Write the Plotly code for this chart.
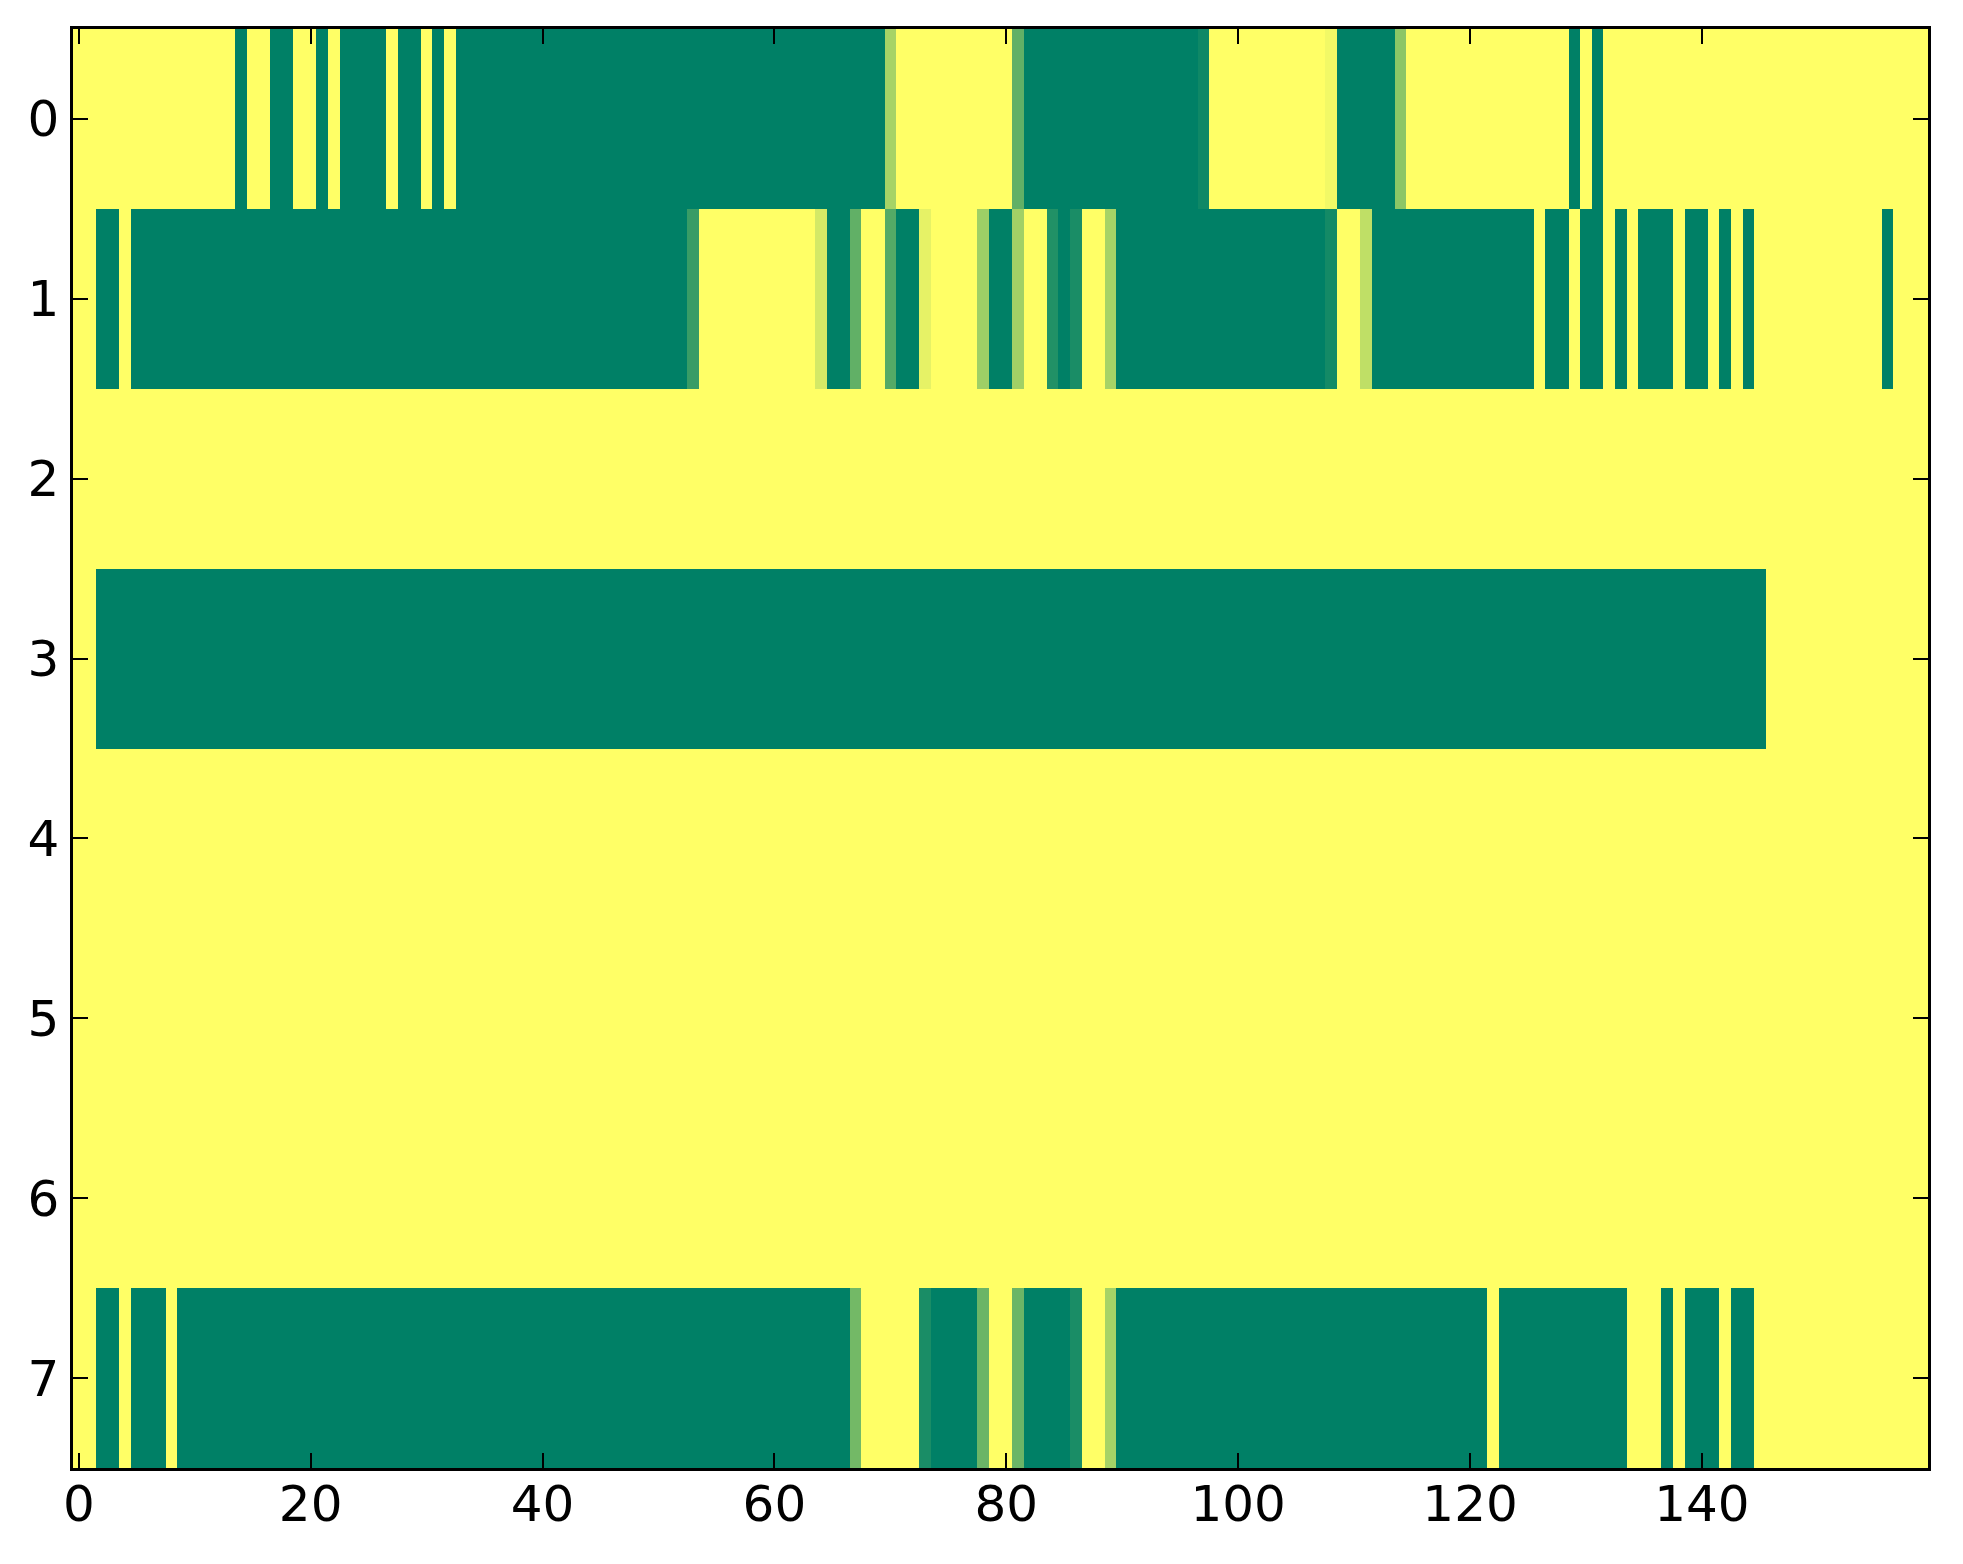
import plotly.graph_objects as go

# values: 8 rows x 160 columns, 0 = green, 1 = yellow
row_0 = [1, 1, 1, 1, 1, 1, 1, 1, 1, 1, 1, 1, 1, 1, 0, 1, 1, 0, 0, 1,
         1, 0, 1, 0, 0, 0, 0, 1, 0, 0, 1, 0, 1, 0, 0, 0, 0, 0, 0, 0,
         0, 0, 0, 0, 0, 0, 0, 0, 0, 0, 0, 0, 0, 0, 0, 0, 0, 0, 0, 0,
         0, 0, 0, 0, 0, 0, 0, 0, 0, 0, 0.65, 1, 1, 1, 1, 1, 1, 1, 1, 1,
         1, 0.38, 0, 0, 0, 0, 0, 0, 0, 0, 0, 0, 0, 0, 0, 0, 0, 0.06, 1, 1,
         1, 1, 1, 1, 1, 1, 1, 1, 0.95, 0, 0, 0, 0, 0, 0.55, 1, 1, 1, 1, 1,
         1, 1, 1, 1, 1, 1, 1, 1, 1, 0, 1, 0, 1, 1, 1, 1, 1, 1, 1, 1,
         1, 1, 1, 1, 1, 1, 1, 1, 1, 1, 1, 1, 1, 1, 1, 1, 1, 1, 1, 1]

row_1 = [1, 1, 0, 0, 1, 0, 0, 0, 0, 0, 0, 0, 0, 0, 0, 0, 0, 0, 0, 0,
         0, 0, 0, 0, 0, 0, 0, 0, 0, 0, 0, 0, 0, 0, 0, 0, 0, 0, 0, 0,
         0, 0, 0, 0, 0, 0, 0, 0, 0, 0, 0, 0, 0, 0.22, 1, 1, 1, 1, 1, 1,
         1, 1, 1, 1, 0.83, 0, 0, 0.38, 1, 1, 0.33, 0, 0, 0.9, 1, 1, 1, 1, 0.62, 0,
         0, 0.63, 1, 1, 0.13, 0, 0.1, 1, 1, 0.65, 0, 0, 0, 0, 0, 0, 0, 0, 0, 0,
         0, 0, 0, 0, 0, 0, 0, 0, 0.08, 1, 1, 0.75, 0, 0, 0, 0, 0, 0, 0, 0,
         0, 0, 0, 0, 0, 0, 1, 0, 0, 1, 0, 0, 1, 0, 1, 0, 0, 0, 1, 0,
         0, 1, 0, 1, 0, 1, 1, 1, 1, 1, 1, 1, 1, 1, 1, 1, 0, 1, 1, 1]

row_2 = [1, 1, 1, 1, 1, 1, 1, 1, 1, 1, 1, 1, 1, 1, 1, 1, 1, 1, 1, 1,
         1, 1, 1, 1, 1, 1, 1, 1, 1, 1, 1, 1, 1, 1, 1, 1, 1, 1, 1, 1,
         1, 1, 1, 1, 1, 1, 1, 1, 1, 1, 1, 1, 1, 1, 1, 1, 1, 1, 1, 1,
         1, 1, 1, 1, 1, 1, 1, 1, 1, 1, 1, 1, 1, 1, 1, 1, 1, 1, 1, 1,
         1, 1, 1, 1, 1, 1, 1, 1, 1, 1, 1, 1, 1, 1, 1, 1, 1, 1, 1, 1,
         1, 1, 1, 1, 1, 1, 1, 1, 1, 1, 1, 1, 1, 1, 1, 1, 1, 1, 1, 1,
         1, 1, 1, 1, 1, 1, 1, 1, 1, 1, 1, 1, 1, 1, 1, 1, 1, 1, 1, 1,
         1, 1, 1, 1, 1, 1, 1, 1, 1, 1, 1, 1, 1, 1, 1, 1, 1, 1, 1, 1]

row_3 = [1, 1, 0, 0, 0, 0, 0, 0, 0, 0, 0, 0, 0, 0, 0, 0, 0, 0, 0, 0,
         0, 0, 0, 0, 0, 0, 0, 0, 0, 0, 0, 0, 0, 0, 0, 0, 0, 0, 0, 0,
         0, 0, 0, 0, 0, 0, 0, 0, 0, 0, 0, 0, 0, 0, 0, 0, 0, 0, 0, 0,
         0, 0, 0, 0, 0, 0, 0, 0, 0, 0, 0, 0, 0, 0, 0, 0, 0, 0, 0, 0,
         0, 0, 0, 0, 0, 0, 0, 0, 0, 0, 0, 0, 0, 0, 0, 0, 0, 0, 0, 0,
         0, 0, 0, 0, 0, 0, 0, 0, 0, 0, 0, 0, 0, 0, 0, 0, 0, 0, 0, 0,
         0, 0, 0, 0, 0, 0, 0, 0, 0, 0, 0, 0, 0, 0, 0, 0, 0, 0, 0, 0,
         0, 0, 0, 0, 0, 0, 1, 1, 1, 1, 1, 1, 1, 1, 1, 1, 1, 1, 1, 1]

row_4 = list(row_2)
row_5 = list(row_2)
row_6 = list(row_2)

row_7 = [1, 1, 0, 0, 1, 0, 0, 0, 1, 0, 0, 0, 0, 0, 0, 0, 0, 0, 0, 0,
         0, 0, 0, 0, 0, 0, 0, 0, 0, 0, 0, 0, 0, 0, 0, 0, 0, 0, 0, 0,
         0, 0, 0, 0, 0, 0, 0, 0, 0, 0, 0, 0, 0, 0, 0, 0, 0, 0, 0, 0,
         0, 0, 0, 0, 0, 0, 0, 0.45, 1, 1, 1, 1, 1, 0.1, 0, 0, 0, 0, 0.42, 1,
         1, 0.42, 0, 0, 0, 0, 0.1, 1, 1, 0.65, 0, 0, 0, 0, 0, 0, 0, 0, 0, 0,
         0, 0, 0, 0, 0, 0, 0, 0, 0, 0, 0, 0, 0, 0, 0, 0, 0, 0, 0, 0,
         0, 0, 1, 0, 0, 0, 0, 0, 0, 0, 0, 0, 0, 0, 1, 1, 1, 0, 1, 0,
         0, 0, 1, 0, 0, 1, 1, 1, 1, 1, 1, 1, 1, 1, 1, 1, 1, 1, 1, 1]

rows = [row_0, row_1, row_2, row_3, row_4, row_5, row_6, row_7]
x_ticks = [0, 20, 40, 60, 80, 100, 120, 140]
y_ticks = [0, 1, 2, 3, 4, 5, 6, 7]

# matplotlib "summer" colormap
summer = [[0, "rgb(0,128,102)"], [1, "rgb(255,255,102)"]]

fig = go.Figure(go.Heatmap(
    z=rows,
    colorscale=summer,
    zmin=0,
    zmax=1,
    showscale=False,
))

axis_style = dict(
    showgrid=False,
    zeroline=False,
    showline=True,
    linecolor="black",
    linewidth=2.5,
    mirror="ticks",
    ticks="inside",
    ticklen=15,
    tickwidth=1.5,
    tickcolor="black",
)

fig.update_xaxes(range=[-0.5, 159.5], tickvals=x_ticks, ticklabelstandoff=-10, **axis_style)
fig.update_yaxes(range=[7.5, -0.5], tickvals=y_ticks, ticklabelstandoff=1, **axis_style)

# page body adds ~8px offset, margins account for it
fig.update_layout(
    width=1963,
    height=1564,
    margin=dict(l=65, r=43, t=21, b=104),
    paper_bgcolor="white",
    plot_bgcolor="white",
    font=dict(family="DejaVu Sans", size=50, color="black"),
)

fig.write_html("out.html")
